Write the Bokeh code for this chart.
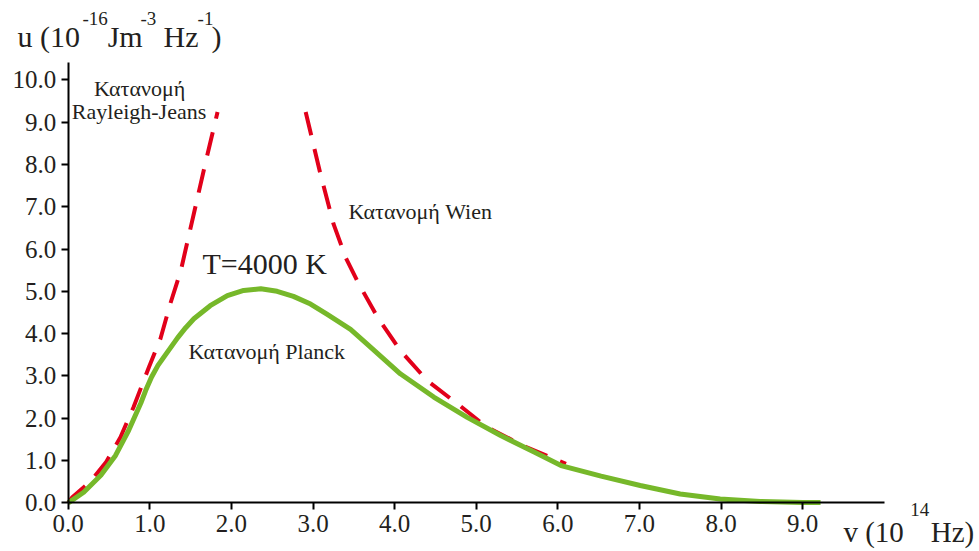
from bokeh.plotting import figure
from bokeh.models import FixedTicker, Label, NumeralTickFormatter, LinearAxis
from bokeh.embed import file_html
from bokeh.resources import INLINE

# Planck distribution (green)
planck_x = [0, 0.19, 0.40, 0.58, 0.74, 0.89, 0.95, 1.02, 1.10, 1.20, 1.34, 1.44, 1.54,
            1.74, 1.95, 2.15, 2.36, 2.56, 2.76, 2.97, 3.17, 3.46, 3.66, 4.07, 4.48,
            4.89, 5.30, 5.71, 6.04, 6.53, 7.01, 7.50, 7.99, 8.48, 9.0, 9.22]
planck_y = [0, 0.25, 0.65, 1.12, 1.71, 2.36, 2.66, 2.97, 3.25, 3.52, 3.90, 4.14, 4.35,
            4.66, 4.90, 5.02, 5.06, 5.00, 4.88, 4.70, 4.46, 4.10, 3.76, 3.05, 2.50,
            2.02, 1.59, 1.20, 0.88, 0.63, 0.41, 0.21, 0.09, 0.03, 0.01, 0.01]
# Rayleigh-Jeans distribution (red dashed)
rj_x = [0, 0.05, 0.27, 0.46, 0.64, 0.80, 0.99, 1.13, 1.25, 1.38, 1.54, 1.68, 1.83]
rj_y = [0, 0.13, 0.50, 0.95, 1.55, 2.26, 3.21, 3.88, 4.70, 5.49, 6.84, 8.02, 9.24]
# Wien distribution (red dashed)
wien_x = [2.91, 3.09, 3.25, 3.40, 3.56, 3.79, 4.07, 4.40, 4.77, 5.13, 5.62, 6.1]
wien_y = [9.24, 7.78, 6.6, 5.80, 5.18, 4.39, 3.60, 2.89, 2.34, 1.79, 1.31, 0.92]

x_ticks = [0, 1, 2, 3, 4, 5, 6, 7, 8, 9]
y_ticks = [0, 1, 2, 3, 4, 5, 6, 7, 8, 9, 10]

FONT = "Liberation Serif"
TXT = "#231f20"
RED = "#e2001a"
GREEN = "#76b82a"

p = figure(width=979, height=551, x_range=(-0.830, 11.168), y_range=(-1.151, 11.875),
           x_axis_type=None, y_axis_type=None,
           output_backend="svg", toolbar_location=None,
           min_border_left=0, min_border_right=0, min_border_top=0, min_border_bottom=0)
p.outline_line_color = None
p.background_fill_color = "white"
p.border_fill_color = "white"

xax = LinearAxis(fixed_location=0, bounds=(0, 10))
yax = LinearAxis(fixed_location=0, bounds=(0, 10.4))
for ax in (xax, yax):
    ax.axis_line_color = "black"
    ax.axis_line_width = 2
    ax.major_tick_line_color = "black"
    ax.major_tick_line_width = 2
    ax.major_tick_out = 7
    ax.major_tick_in = 0
    ax.minor_tick_line_color = None
    ax.major_label_text_font = FONT
    ax.major_label_text_color = TXT
    ax.major_label_standoff = 5
    ax.major_label_text_font_size = "25px"
    ax.formatter = NumeralTickFormatter(format="0.0")
xax.ticker = FixedTicker(ticks=x_ticks)
yax.ticker = FixedTicker(ticks=y_ticks)
p.add_layout(xax, "below")
p.add_layout(yax, "left")

p.line(rj_x, rj_y, line_color=RED, line_width=4, line_dash="24 14")
p.line(wien_x, wien_y, line_color=RED, line_width=4, line_dash="24 14")
p.line(planck_x, planck_y, line_color=GREEN, line_width=5, line_join="round")


def lab(x, y, text, size, align="left"):
    p.add_layout(Label(x=x, y=y, text=text, text_font=FONT, text_font_size=size,
                       text_color=TXT, text_align=align, text_baseline="alphabetic"))


# y-axis title
lab(-0.621, 11.03, "u (10", "30px")
lab(0.175, 11.45, "-16", "19px")
lab(0.483, 11.03, "Jm", "30px")
lab(0.886, 11.45, "-3", "19px")
lab(1.168, 11.03, "Hz", "30px")
lab(1.585, 11.45, "-1", "19px")
lab(1.756, 11.03, ")", "30px")

# x-axis title
lab(9.50, -0.68, "v (10", "29px")
lab(10.32, -0.16, "14", "19px")
lab(10.57, -0.68, "Hz)", "29px")

# annotations
lab(0.875, 9.80, "Κατανομή", "22px", "center")
lab(0.868, 9.26, "Rayleigh-Jeans", "22px", "center")
lab(3.435, 6.89, "Κατανομή Wien", "22px")
lab(1.646, 5.66, "T=4000 K", "30px")
lab(1.474, 3.58, "Κατανομή Planck", "22px")

open("out.html", "w").write(file_html(p, INLINE))
